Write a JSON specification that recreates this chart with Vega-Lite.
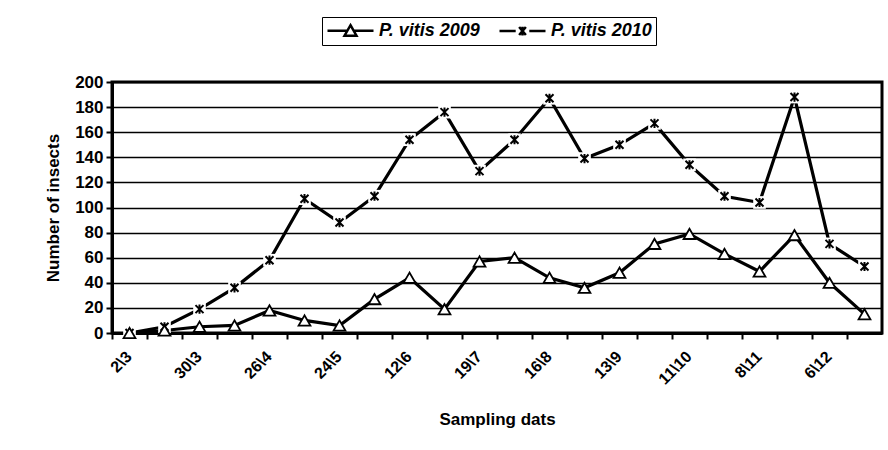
{
  "$schema": "https://vega.github.io/schema/vega-lite/v6.json",
  "width": 770,
  "height": 251,
  "autosize": {"type": "none"},
  "padding": {"left": 112, "top": 82, "right": 6, "bottom": 117},
  "background": "white",
  "config": {
    "font": "Liberation Sans",
    "view": {"stroke": "black", "strokeWidth": 3}
  },
  "data": {
    "values": [
      {"d": "2\\3", "series": "P. vitis 2009", "v": 0},
      {"d": "16\\3", "series": "P. vitis 2009", "v": 2},
      {"d": "30\\3", "series": "P. vitis 2009", "v": 5},
      {"d": "13\\4", "series": "P. vitis 2009", "v": 6},
      {"d": "26\\4", "series": "P. vitis 2009", "v": 18},
      {"d": "10\\5", "series": "P. vitis 2009", "v": 10},
      {"d": "24\\5", "series": "P. vitis 2009", "v": 6},
      {"d": "31\\5", "series": "P. vitis 2009", "v": 27},
      {"d": "12\\6", "series": "P. vitis 2009", "v": 44},
      {"d": "5\\7", "series": "P. vitis 2009", "v": 19},
      {"d": "19\\7", "series": "P. vitis 2009", "v": 57},
      {"d": "2\\8", "series": "P. vitis 2009", "v": 60},
      {"d": "16\\8", "series": "P. vitis 2009", "v": 44},
      {"d": "30\\8", "series": "P. vitis 2009", "v": 36},
      {"d": "13\\9", "series": "P. vitis 2009", "v": 48},
      {"d": "27\\9", "series": "P. vitis 2009", "v": 71},
      {"d": "11\\10", "series": "P. vitis 2009", "v": 79},
      {"d": "25\\10", "series": "P. vitis 2009", "v": 63},
      {"d": "8\\11", "series": "P. vitis 2009", "v": 49},
      {"d": "22\\11", "series": "P. vitis 2009", "v": 78},
      {"d": "6\\12", "series": "P. vitis 2009", "v": 40},
      {"d": "20\\12", "series": "P. vitis 2009", "v": 15},
      {"d": "2\\3", "series": "P. vitis 2010", "v": 0},
      {"d": "16\\3", "series": "P. vitis 2010", "v": 5},
      {"d": "30\\3", "series": "P. vitis 2010", "v": 19},
      {"d": "13\\4", "series": "P. vitis 2010", "v": 36},
      {"d": "26\\4", "series": "P. vitis 2010", "v": 58},
      {"d": "10\\5", "series": "P. vitis 2010", "v": 107},
      {"d": "24\\5", "series": "P. vitis 2010", "v": 88},
      {"d": "31\\5", "series": "P. vitis 2010", "v": 109},
      {"d": "12\\6", "series": "P. vitis 2010", "v": 154},
      {"d": "5\\7", "series": "P. vitis 2010", "v": 176},
      {"d": "19\\7", "series": "P. vitis 2010", "v": 129},
      {"d": "2\\8", "series": "P. vitis 2010", "v": 154},
      {"d": "16\\8", "series": "P. vitis 2010", "v": 187},
      {"d": "30\\8", "series": "P. vitis 2010", "v": 139},
      {"d": "13\\9", "series": "P. vitis 2010", "v": 150},
      {"d": "27\\9", "series": "P. vitis 2010", "v": 167},
      {"d": "11\\10", "series": "P. vitis 2010", "v": 134},
      {"d": "25\\10", "series": "P. vitis 2010", "v": 109},
      {"d": "8\\11", "series": "P. vitis 2010", "v": 104},
      {"d": "22\\11", "series": "P. vitis 2010", "v": 188},
      {"d": "6\\12", "series": "P. vitis 2010", "v": 71},
      {"d": "20\\12", "series": "P. vitis 2010", "v": 53}
    ]
  },
  "encoding": {
    "y": {
      "field": "v",
      "type": "quantitative",
      "scale": {"domain": [0, 200], "nice": false},
      "axis": {
        "values": [0, 20, 40, 60, 80, 100, 120, 140, 160, 180, 200],
        "grid": true,
        "gridColor": "black",
        "gridWidth": 1.5,
        "gridOpacity": 1,
        "domainColor": "black",
        "domainWidth": 3,
        "tickColor": "black",
        "tickWidth": 2,
        "tickSize": 6,
        "labelFontSize": 17,
        "labelFontWeight": "bold",
        "labelColor": "black",
        "labelPadding": 3,
        "title": "Number of insects",
        "titleFontSize": 17,
        "titleFontWeight": "bold",
        "titleColor": "black",
        "titlePadding": 12
      }
    }
  },
  "layer": [
    {
      "mark": {"type": "line", "color": "black", "strokeWidth": 3.2},
      "encoding": {
        "x": {
          "field": "d",
          "type": "ordinal",
          "sort": null,
          "scale": {"type": "band", "paddingInner": 0, "paddingOuter": 0},
          "axis": {
            "values": ["2\\3", "30\\3", "26\\4", "24\\5", "12\\6", "19\\7", "16\\8", "13\\9", "11\\10", "8\\11", "6\\12"],
            "ticks": false,
            "grid": false,
            "domain": true,
            "domainColor": "black",
            "domainWidth": 3,
            "labelAngle": -45,
            "labelFontSize": 16,
            "labelFontWeight": "bold",
            "labelColor": "black",
            "labelPadding": 15,
            "labelOffset": -6,
            "labelOverlap": false,
            "title": "Sampling dats",
            "titleFontSize": 17,
            "titleFontWeight": "bold",
            "titleColor": "black",
            "titlePadding": 24,
            "orient": "bottom"
          }
        },
        "detail": {"field": "series"}
      }
    },
    {
      "transform": [{"filter": "datum.series === 'P. vitis 2010'"}],
      "mark": {"type": "point", "shape": "square", "size": 160, "filled": true, "fill": "white", "strokeWidth": 0, "opacity": 1},
      "encoding": {
        "x": {
          "field": "d",
          "type": "ordinal",
          "sort": null,
          "axis": {
            "bandPosition": 0,
            "labels": false,
            "ticks": true,
            "tickSize": 6,
            "tickWidth": 2,
            "tickColor": "black",
            "domain": false,
            "grid": false,
            "title": null,
            "orient": "bottom"
          }
        }
      }
    },
    {
      "transform": [{"filter": "datum.series === 'P. vitis 2010'"}],
      "mark": {"type": "point", "shape": "M-1,-1L1,1M-1,1L1,-1M0,-1.15L0,1.15", "size": 64, "filled": false, "stroke": "black", "strokeWidth": 2, "opacity": 1},
      "encoding": {"x": {"field": "d", "type": "ordinal", "sort": null, "axis": null}}
    },
    {
      "transform": [{"filter": "datum.series === 'P. vitis 2009'"}],
      "mark": {"type": "point", "shape": "triangle-up", "size": 140, "filled": true, "fill": "white", "stroke": "black", "strokeWidth": 1.8, "opacity": 1},
      "encoding": {"x": {"field": "d", "type": "ordinal", "sort": null, "axis": null}}
    },
    {
      "mark": {"type": "point", "opacity": 0, "filled": false},
      "encoding": {
        "x": {"field": "d", "type": "ordinal", "sort": null, "axis": null},
        "shape": {
          "field": "series",
          "type": "nominal",
          "scale": {
            "domain": ["P. vitis 2009", "P. vitis 2010"],
            "range": [
              "M-2.875,0L-0.4,0M0.4,0L2.875,0M0,-0.7L0.75,0.62L-0.75,0.62Z",
              "M-2.875,0L-0.85,0M0.85,0L2.875,0M-0.42,-0.5L0.42,0.5M-0.42,0.5L0.42,-0.5M0,-0.55L0,0.55"
            ]
          },
          "legend": {
            "orient": "none",
            "legendX": 210,
            "legendY": -65,
            "direction": "horizontal",
            "columns": 2,
            "title": null,
            "strokeColor": "black",
            "fillColor": "white",
            "padding": 4,
            "symbolSize": 256,
            "symbolOffset": 15,
            "labelOffset": 19,
            "columnPadding": 14,
            "labelFontSize": 18,
            "labelFontWeight": "bold",
            "labelFontStyle": "italic",
            "labelColor": "black",
            "labelLimit": 300,
            "symbolStrokeColor": "black",
            "symbolStrokeWidth": 2.5,
            "symbolFillColor": "white",
            "symbolOpacity": 1
          }
        }
      }
    }
  ],
  "resolve": {"axis": {"x": "independent"}}
}
